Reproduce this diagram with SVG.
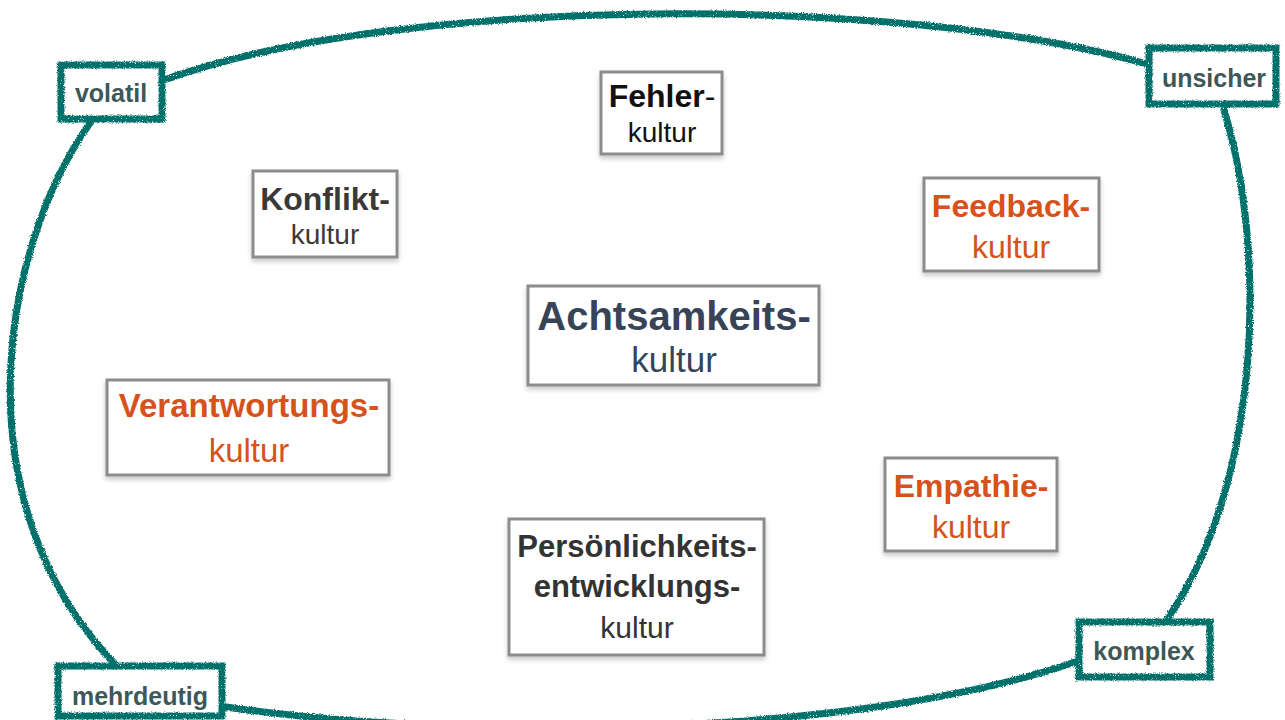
<svg xmlns="http://www.w3.org/2000/svg" width="1285" height="720" viewBox="0 0 1285 720">
  <defs>
    <filter id="chalk" filterUnits="userSpaceOnUse" x="-20" y="-20" width="1325" height="760">
      <feTurbulence type="fractalNoise" baseFrequency="0.9" numOctaves="2" seed="4" result="noise"/>
      <feDisplacementMap in="SourceGraphic" in2="noise" scale="3.5" xChannelSelector="R" yChannelSelector="G" result="disp"/>
      <feTurbulence type="fractalNoise" baseFrequency="1.6" numOctaves="1" seed="9" result="speck"/>
      <feColorMatrix in="speck" type="matrix" values="0 0 0 0 0  0 0 0 0 0  0 0 0 0 0  0 0 0 -9 7" result="mask"/>
      <feComposite in="disp" in2="mask" operator="in"/>
    </filter>
    <filter id="shadow" x="-10%" y="-10%" width="120%" height="130%">
      <feDropShadow dx="0" dy="3" stdDeviation="2.5" flood-color="#000" flood-opacity="0.22"/>
    </filter>
    <style>
      .chalk { fill: none; stroke: #05706a; stroke-width: 7; stroke-linecap: round; }
      .tag { fill: #ffffff; stroke: #05706a; stroke-width: 7; }
      .tagtxt { font-family: "Liberation Sans", Arial, sans-serif; font-weight: bold; font-size: 25px; fill: #3d5856; text-anchor: middle; }
      .box { fill: #ffffff; stroke: #8c8c8c; stroke-width: 3; }
      .t { font-family: "Liberation Sans", Arial, sans-serif; text-anchor: middle; }
      .b { font-weight: bold; }
      .orange { fill: #d7521b; }
    </style>
  </defs>
  <rect width="1285" height="720" fill="#ffffff"/>

  <g id="connectors" filter="url(#chalk)">
    <path class="chalk" d="M167,79 C 400,-5 900,-5 1143,63"/>
    <path class="chalk" d="M1224,110 C 1267,250 1262,480 1168,618"/>
    <path class="chalk" d="M1075,662 C 850,740 450,740 226,707"/>
    <path class="chalk" d="M90,123 C 0,250 -40,500 113,662"/>
  </g>

  <g id="volatil">
    <rect class="tag" x="61" y="65" width="101" height="54" filter="url(#chalk)"/>
    <text class="tagtxt" x="111" y="102">volatil</text>
  </g>
  <g id="unsicher">
    <rect class="tag" x="1149" y="48" width="127" height="56" filter="url(#chalk)"/>
    <text class="tagtxt" x="1214" y="87">unsicher</text>
  </g>
  <g id="mehrdeutig">
    <rect class="tag" x="58" y="666" width="164" height="50" filter="url(#chalk)"/>
    <text class="tagtxt" x="140" y="705">mehrdeutig</text>
  </g>
  <g id="komplex">
    <rect class="tag" x="1079" y="622" width="131" height="55" filter="url(#chalk)"/>
    <text class="tagtxt" x="1144" y="660">komplex</text>
  </g>

  <g id="fehler">
    <rect class="box" x="601" y="72" width="121" height="82" filter="url(#shadow)"/>
    <text class="t" x="662" y="107" font-size="32" fill="#111111"><tspan class="b">Fehler</tspan>-</text>
    <text class="t" x="662" y="142" font-size="28" fill="#111111">kultur</text>
  </g>

  <g id="konflikt">
    <rect class="box" x="253" y="171" width="144" height="86" filter="url(#shadow)"/>
    <text class="t b" x="325" y="210" font-size="32" fill="#3b3838">Konflikt-</text>
    <text class="t" x="325" y="244" font-size="28" fill="#3b3838">kultur</text>
  </g>

  <g id="feedback">
    <rect class="box" x="924" y="178" width="175" height="93" filter="url(#shadow)"/>
    <text class="t b orange" x="1011" y="217" font-size="32">Feedback-</text>
    <text class="t orange" x="1011" y="258" font-size="32">kultur</text>
  </g>

  <g id="achtsamkeit">
    <rect class="box" x="528" y="286" width="291" height="99" filter="url(#shadow)"/>
    <text class="t b" x="674" y="330" font-size="40" fill="#374458">Achtsamkeits-</text>
    <text class="t" x="674" y="372" font-size="35" fill="#374458">kultur</text>
  </g>

  <g id="verantwortung">
    <rect class="box" x="107" y="380" width="282" height="95" filter="url(#shadow)"/>
    <text class="t b orange" x="249" y="417" font-size="33">Verantwortungs-</text>
    <text class="t orange" x="249" y="462" font-size="33">kultur</text>
  </g>

  <g id="empathie">
    <rect class="box" x="885" y="458" width="172" height="93" filter="url(#shadow)"/>
    <text class="t b orange" x="971" y="497" font-size="32">Empathie-</text>
    <text class="t orange" x="971" y="538" font-size="32">kultur</text>
  </g>

  <g id="persoenlichkeit">
    <rect class="box" x="509" y="519" width="255" height="136" filter="url(#shadow)"/>
    <text class="t b" x="637" y="557" font-size="31" fill="#333333">Persönlichkeits-</text>
    <text class="t b" x="637" y="597" font-size="31" fill="#333333">entwicklungs-</text>
    <text class="t" x="637" y="638" font-size="30" fill="#333333">kultur</text>
  </g>
</svg>
